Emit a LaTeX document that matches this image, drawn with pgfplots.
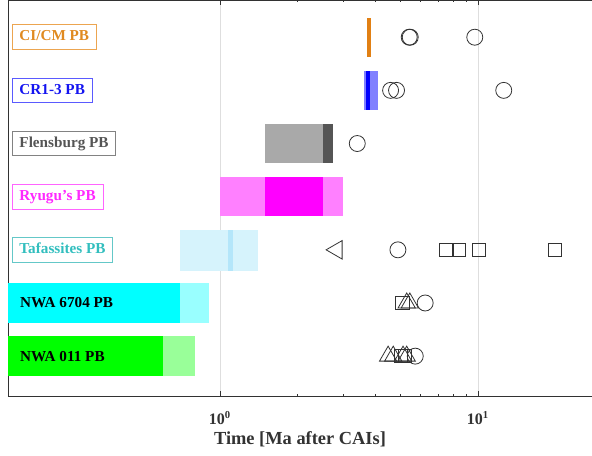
\documentclass[border=0pt]{standalone}
\usepackage{pgfplots}
\pgfplotsset{compat=1.18}
\usepackage{fontspec}
\setmainfont{Liberation Serif}
\definecolor{cOrange}{RGB}{225,128,20}
\definecolor{tOrange}{RGB}{224,138,32}
\definecolor{bOrange}{RGB}{236,165,80}
\definecolor{cBlue}{RGB}{0,0,255}
\definecolor{cBlueL}{RGB}{128,128,255}
\definecolor{tBlue}{RGB}{20,20,240}
\definecolor{bBlue}{RGB}{90,90,255}
\definecolor{cGrayL}{RGB}{169,169,169}
\definecolor{cGrayD}{RGB}{85,85,85}
\definecolor{tGray}{RGB}{85,85,85}
\definecolor{bGray}{RGB}{130,130,130}
\definecolor{cMag}{RGB}{255,0,255}
\definecolor{cMagL}{RGB}{255,128,255}
\definecolor{tMag}{RGB}{255,40,255}
\definecolor{bMag}{RGB}{255,100,255}
\definecolor{cTafL}{RGB}{214,243,252}
\definecolor{cTafS}{RGB}{180,230,250}
\definecolor{tTaf}{RGB}{50,190,190}
\definecolor{bTaf}{RGB}{100,200,200}
\definecolor{cCyan}{RGB}{0,255,255}
\definecolor{cCyanL}{RGB}{153,255,255}
\definecolor{cGreen}{RGB}{0,255,0}
\definecolor{cGreenL}{RGB}{153,255,153}
\definecolor{axcol}{RGB}{50,50,50}
\begin{document}
\begin{tikzpicture}[
  lbl/.style={anchor=west, font=\bfseries\fontsize{11.4}{13}\selectfont, line width=0.75pt, inner xsep=5.5pt, text height=8pt, text depth=2.5pt, inner ysep=4pt},
  nlbl/.style={anchor=west, font=\bfseries\fontsize{11.4}{13}\selectfont, inner sep=0pt, text=black}
]
\begin{axis}[
  scale only axis, width=438pt, height=297pt,
  xmode=log, xmin=0.151, xmax=27.7, ymin=0.25, ymax=7.7,
  axis x line*=box, axis y line*=left,
  ytick=\empty,
  xtick={1,10},
  xticklabels={\textbf{10\textsuperscript{0}},\textbf{10\textsuperscript{1}}},
  xticklabel style={font=\fontsize{12}{13}\selectfont, text=axcol, inner sep=0pt, yshift=-11.5pt},
  xmajorgrids, major grid style={draw=black!13, line width=0.5pt},
  major tick length=3.75pt, minor tick length=1.8pt,
  tick style={color=axcol, line width=0.5pt},
  axis line style={color=axcol, line width=0.6pt},
  xlabel={\textbf{Time [Ma after CAIs]}},
  xlabel style={font=\fontsize{13.8}{16}\selectfont, text=axcol, at={(axis description cs:0.5,0)}, anchor=north, inner sep=0pt, yshift=-26.7pt},
]
% Bars
\addplot[fill=cOrange, draw=none] coordinates {(3.71,6.63) (3.86,6.63) (3.86,7.37) (3.71,7.37)};
\addplot[fill=cBlueL, draw=none] coordinates {(3.62,5.63) (4.11,5.63) (4.11,6.37) (3.62,6.37)};
\addplot[fill=cBlue, draw=none] coordinates {(3.69,5.63) (3.82,5.63) (3.82,6.37) (3.69,6.37)};
\addplot[fill=cGrayL, draw=none] coordinates {(1.5,4.63) (2.5,4.63) (2.5,5.37) (1.5,5.37)};
\addplot[fill=cGrayD, draw=none] coordinates {(2.5,4.63) (2.74,4.63) (2.74,5.37) (2.5,5.37)};
\addplot[fill=cMagL, draw=none] coordinates {(1.0,3.63) (3.0,3.63) (3.0,4.37) (1.0,4.37)};
\addplot[fill=cMag, draw=none] coordinates {(1.5,3.63) (2.5,3.63) (2.5,4.37) (1.5,4.37)};
\addplot[fill=cTafL, draw=none] coordinates {(0.70,2.61) (1.40,2.61) (1.40,3.37) (0.70,3.37)};
\addplot[fill=cTafS, draw=none] coordinates {(1.08,2.61) (1.12,2.61) (1.12,3.37) (1.08,3.37)};
\addplot[fill=cCyanL, draw=none] coordinates {(0.151,1.62) (0.904,1.62) (0.904,2.38) (0.151,2.38)};
\addplot[fill=cCyan, draw=none] coordinates {(0.151,1.62) (0.70,1.62) (0.70,2.38) (0.151,2.38)};
\addplot[fill=cGreenL, draw=none] coordinates {(0.151,0.63) (0.80,0.63) (0.80,1.37) (0.151,1.37)};
\addplot[fill=cGreen, draw=none] coordinates {(0.151,0.63) (0.60,0.63) (0.60,1.37) (0.151,1.37)};
% Markers
\addplot[only marks, mark=o, mark size=6pt, draw=axcol, line width=0.6pt] coordinates {
 (5.42,7) (5.47,7) (9.73,7)
 (4.59,6) (4.84,6) (12.6,6)
 (3.41,5)
 (4.9,3)
 (6.25,2)
 (5.72,1)};
\addplot[only marks, mark=square, mark size=5pt, draw=axcol, line width=0.6pt] coordinates {
 (7.56,3) (8.44,3) (10.1,3) (19.9,3)
 (5.1,2)
 (5.03,1) (5.21,1)};
\addplot[only marks, mark=triangle, mark size=8pt, mark options={rotate=90}, draw=axcol, line width=0.6pt] coordinates {(2.84,3)};
\addplot[only marks, mark=triangle, mark size=7.5pt, draw=axcol, line width=0.6pt] coordinates {
 (5.3,2) (5.45,2)
 (4.49,1) (4.70,1) (5.13,1) (5.3,1)};
% Labels
\node[lbl, draw=bOrange, text=tOrange] at (axis cs:0.156,7) {CI/CM PB};
\node[lbl, draw=bBlue, text=tBlue] at (axis cs:0.156,6) {CR1-3 PB};
\node[lbl, draw=bGray, text=tGray] at (axis cs:0.156,5) {Flensburg PB};
\node[lbl, draw=bMag, text=tMag] at (axis cs:0.156,4) {Ryugu{\char"0027}s PB};
\node[lbl, draw=bTaf, text=tTaf] at (axis cs:0.156,3) {Tafassites PB};
\node[nlbl] at (axis cs:0.168,2) {NWA 6704 PB};
\node[nlbl] at (axis cs:0.168,1) {NWA 011 PB};
\end{axis}
\pgfresetboundingbox
\path[use as bounding box] (current axis.south west) ++(-6pt,-44.25pt) rectangle (current axis.north east);
\end{tikzpicture}
\end{document}
